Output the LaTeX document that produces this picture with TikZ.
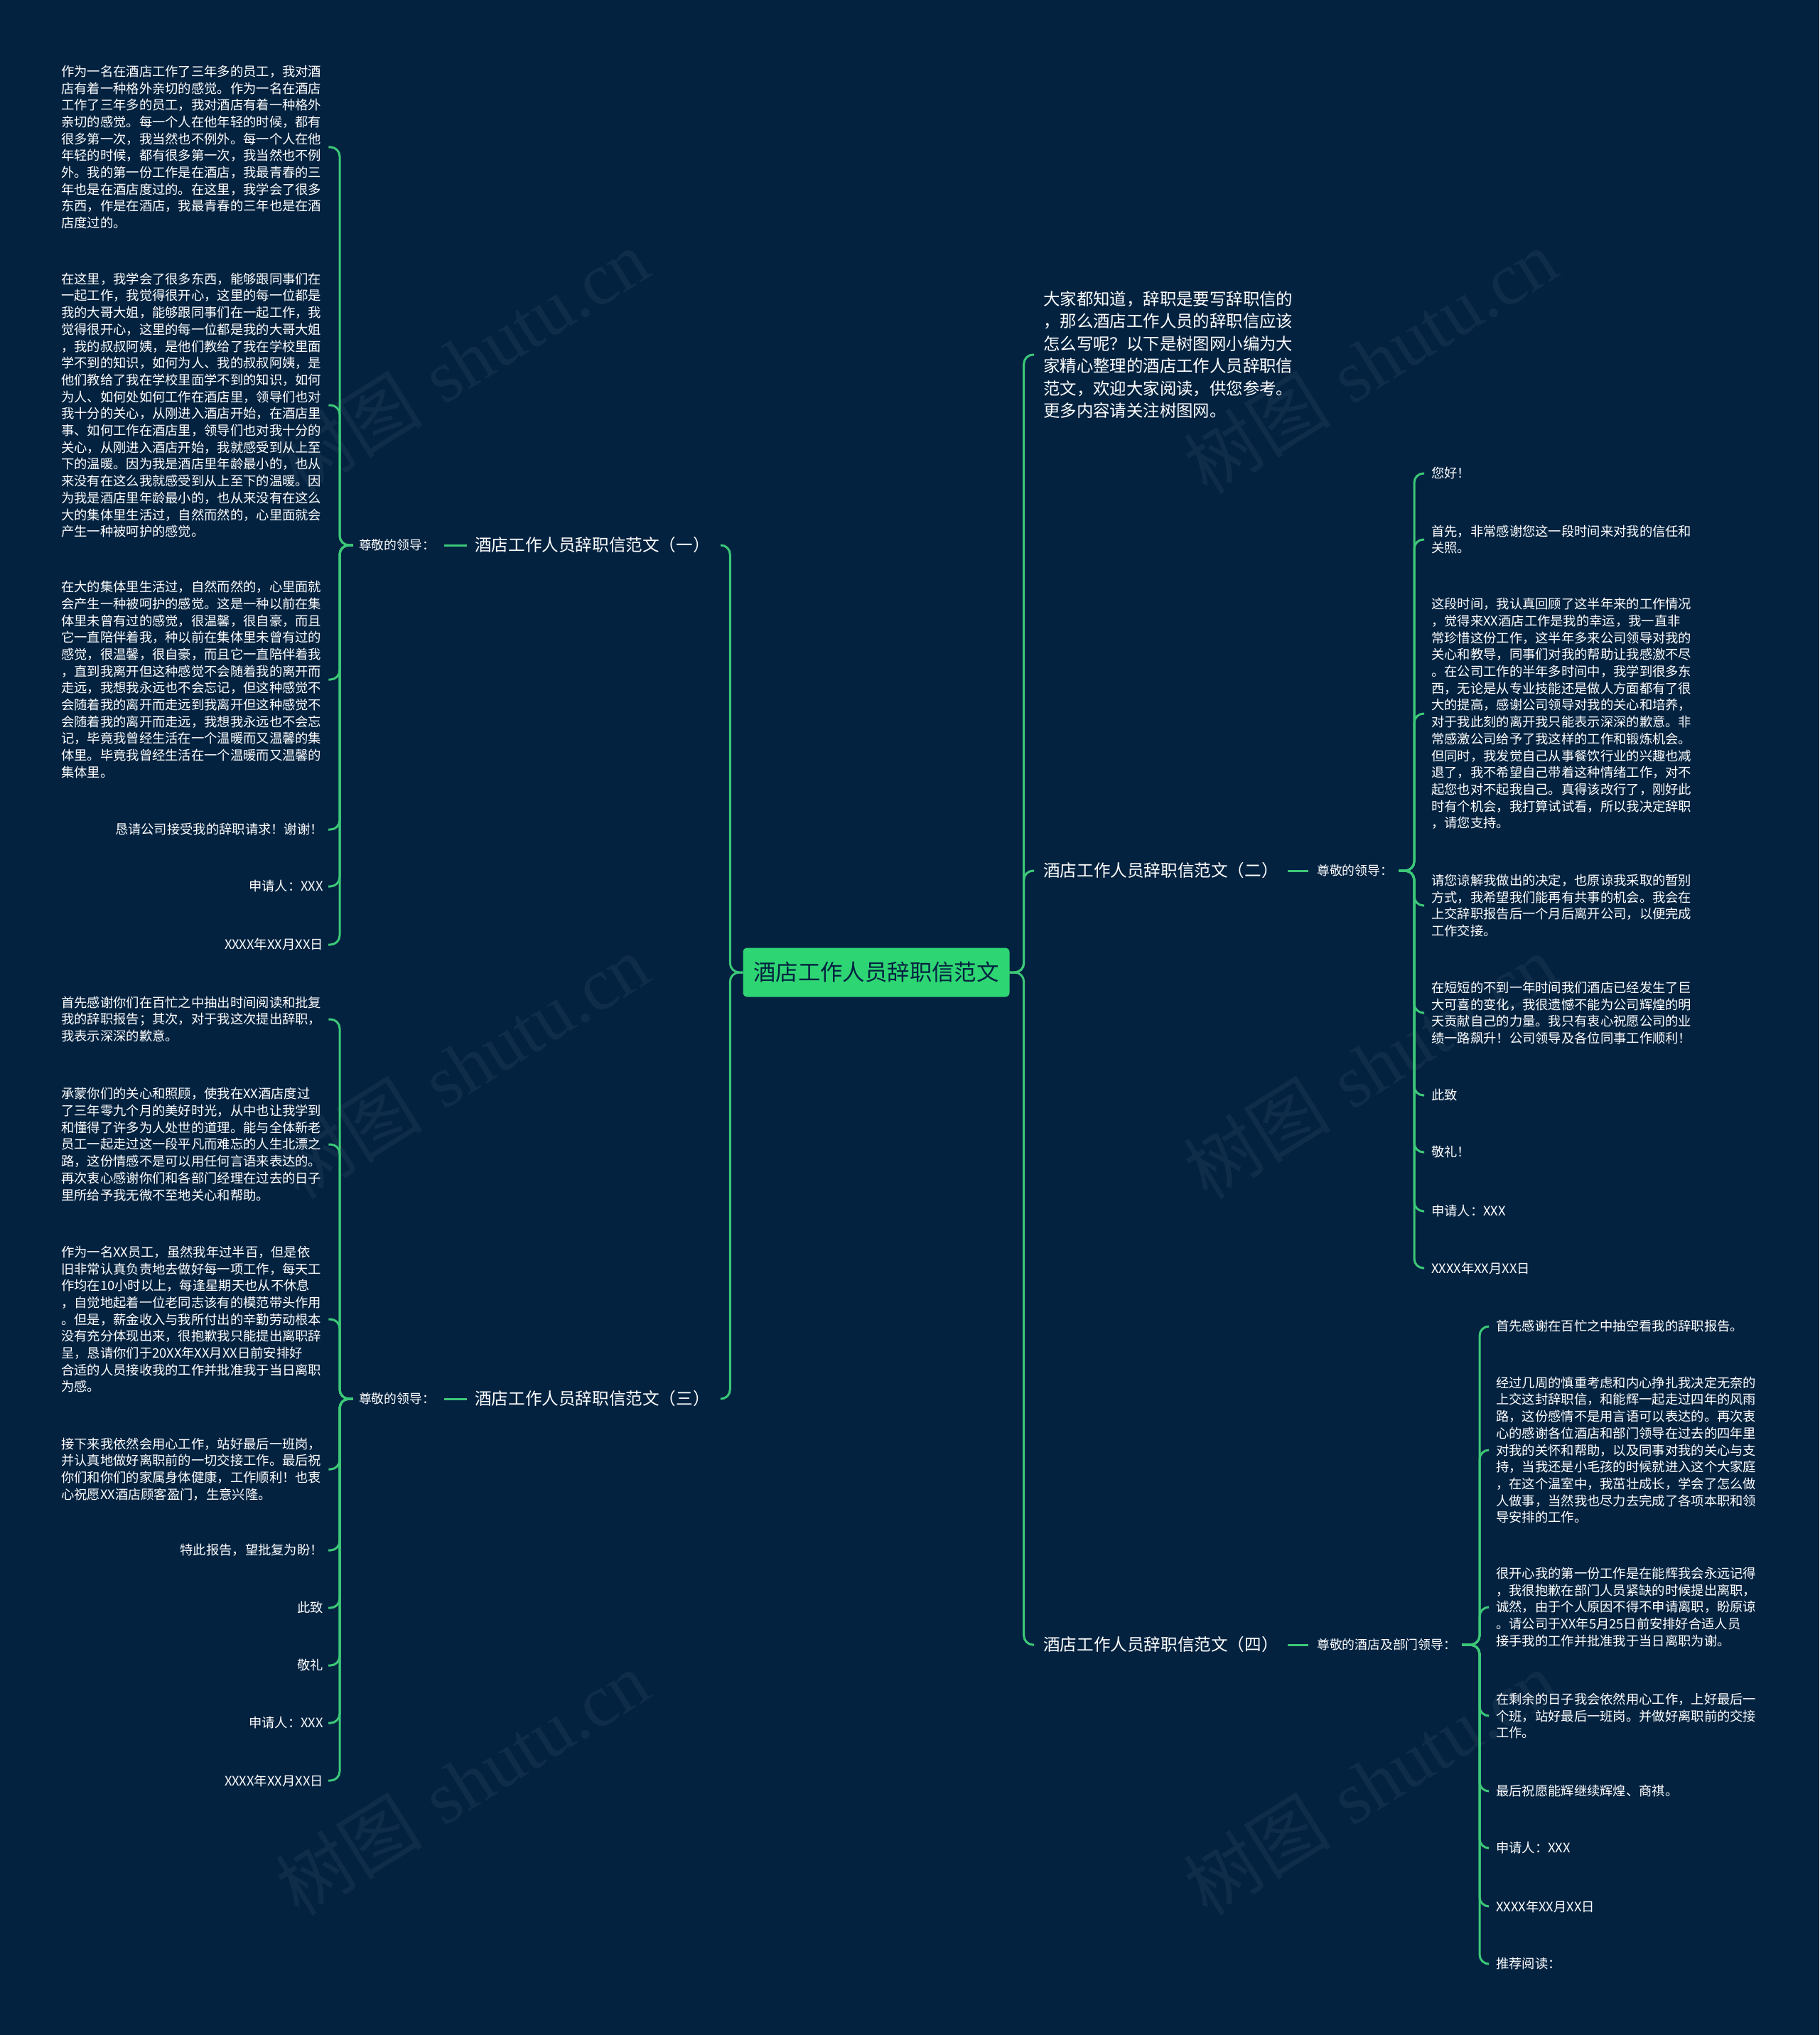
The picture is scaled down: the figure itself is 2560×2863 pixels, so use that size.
\documentclass[tikz,border=0pt]{standalone}
\usepackage{fontspec}
\newfontfamily\cjk{Noto Sans CJK SC}
\newfontfamily\wmserif{Liberation Serif}
\definecolor{bgc}{RGB}{3,34,64}
\definecolor{lc}{RGB}{60,200,120}
\definecolor{cfill}{RGB}{46,213,115}
\begin{document}
\begin{tikzpicture}[x=1pt,y=-1pt,
  conn/.style={draw=lc,line width=3pt,rounded corners=13pt},
  leaf/.style={text=white,font=\cjk\fontsize{18.3}{23.7}\selectfont,inner sep=0pt},
  para/.style={leaf,text width=369pt,align=left},
  branch/.style={text=white,font=\cjk\fontsize{23.6}{28}\selectfont,inner sep=0pt},
  lead/.style={text=white,font=\cjk\fontsize{17.8}{21}\selectfont,inner sep=0pt},
  intro/.style={text=white,font=\cjk\fontsize{23.4}{31.5}\selectfont,inner sep=0pt,align=left},
  ctrnode/.style={fill=cfill,text=bgc,rounded corners=6pt,minimum width=375pt,minimum height=69pt,font=\cjk\fontsize{31.4}{36}\selectfont,inner sep=0pt},
  wm/.style={text=white,opacity=0.05,font=\fontsize{104}{110}\selectfont,inner sep=0pt}]
\fill[bgc] (0,0) rectangle (2560,2863);
\useasboundingbox (0,0) rectangle (2560,2863);

% watermarks
\foreach \wx/\wy [count=\i] in {650/508,1928/508,650/1500,1928/1500,650/2508,1928/2508}
  \node[wm,rotate=32] (wm\i) at (\wx,\wy) {{\cjk 树图} {\wmserif shutu.cn}};

% centre
\node[ctrnode] (ctr) at (1233,1368) {酒店工作人员辞职信范文};

% junction points of the fans
\coordinate (v1) at (478,767);
\coordinate (v3) at (478,1968);
\coordinate (v2) at (1990,1225);
\coordinate (v4) at (2082,2314);

% ---------- branch 1 ----------
\node[branch,anchor=west] (b1) at (668,767) {酒店工作人员辞职信范文（一）};
\node[lead,anchor=east] (L1) at (612,767) {尊敬的领导：};
\node[para,anchor=west] (p11) at (86,207) {作为一名在酒店工作了三年多的员工，我对酒\\店有着一种格外亲切的感觉。作为一名在酒店\\工作了三年多的员工，我对酒店有着一种格外\\亲切的感觉。每一个人在他年轻的时候，都有\\很多第一次，我当然也不例外。每一个人在他\\年轻的时候，都有很多第一次，我当然也不例\\外。我的第一份工作是在酒店，我最青春的三\\年也是在酒店度过的。在这里，我学会了很多\\东西，作是在酒店，我最青春的三年也是在酒\\店度过的。};
\node[para,anchor=west] (p12) at (86,570) {在这里，我学会了很多东西，能够跟同事们在\\一起工作，我觉得很开心，这里的每一位都是\\我的大哥大姐，能够跟同事们在一起工作，我\\觉得很开心，这里的每一位都是我的大哥大姐\\，我的叔叔阿姨，是他们教给了我在学校里面\\学不到的知识，如何为人、我的叔叔阿姨，是\\他们教给了我在学校里面学不到的知识，如何\\为人、如何处如何工作在酒店里，领导们也对\\我十分的关心，从刚进入酒店开始，在酒店里\\事、如何工作在酒店里，领导们也对我十分的\\关心，从刚进入酒店开始，我就感受到从上至\\下的温暖。因为我是酒店里年龄最小的，也从\\来没有在这么我就感受到从上至下的温暖。因\\为我是酒店里年龄最小的，也从来没有在这么\\大的集体里生活过，自然而然的，心里面就会\\产生一种被呵护的感觉。};
\node[para,anchor=west] (p13) at (86,956) {在大的集体里生活过，自然而然的，心里面就\\会产生一种被呵护的感觉。这是一种以前在集\\体里未曾有过的感觉，很温馨，很自豪，而且\\它一直陪伴着我，种以前在集体里未曾有过的\\感觉，很温馨，很自豪，而且它一直陪伴着我\\，直到我离开但这种感觉不会随着我的离开而\\走远，我想我永远也不会忘记，但这种感觉不\\会随着我的离开而走远到我离开但这种感觉不\\会随着我的离开而走远，我想我永远也不会忘\\记，毕竟我曾经生活在一个温暖而又温馨的集\\体里。毕竟我曾经生活在一个温暖而又温馨的\\集体里。};
\node[leaf,anchor=east] (p14) at (455,1167) {恳请公司接受我的辞职请求！谢谢！};
\node[leaf,anchor=east] (p15) at (455,1247) {申请人：XXX};
\node[leaf,anchor=east] (p16) at (455,1329) {XXXX年XX月XX日};

% ---------- branch 3 ----------
\node[branch,anchor=west] (b3) at (668,1968) {酒店工作人员辞职信范文（三）};
\node[lead,anchor=east] (L3) at (612,1968) {尊敬的领导：};
\node[para,anchor=west] (p31) at (86,1434) {首先感谢你们在百忙之中抽出时间阅读和批复\\我的辞职报告；其次，对于我这次提出辞职，\\我表示深深的歉意。};
\node[para,anchor=west] (p32) at (86,1610) {承蒙你们的关心和照顾，使我在XX酒店度过\\了三年零九个月的美好时光，从中也让我学到\\和懂得了许多为人处世的道理。能与全体新老\\员工一起走过这一段平凡而难忘的人生北漂之\\路，这份情感不是可以用任何言语来表达的。\\再次衷心感谢你们和各部门经理在过去的日子\\里所给予我无微不至地关心和帮助。};
\node[para,anchor=west] (p33) at (86,1856) {作为一名XX员工，虽然我年过半百，但是依\\旧非常认真负责地去做好每一项工作，每天工\\作均在10小时以上，每逢星期天也从不休息\\，自觉地起着一位老同志该有的模范带头作用\\。但是，薪金收入与我所付出的辛勤劳动根本\\没有充分体现出来，很抱歉我只能提出离职辞\\呈，恳请你们于20XX年XX月XX日前安排好\\合适的人员接收我的工作并批准我于当日离职\\为感。};
\node[para,anchor=west] (p34) at (86,2067) {接下来我依然会用心工作，站好最后一班岗，\\并认真地做好离职前的一切交接工作。最后祝\\你们和你们的家属身体健康，工作顺利！也衷\\心祝愿XX酒店顾客盈门，生意兴隆。};
\node[leaf,anchor=east] (p35) at (455,2181) {特此报告，望批复为盼！};
\node[leaf,anchor=east] (p36) at (455,2262) {此致};
\node[leaf,anchor=east] (p37) at (455,2343) {敬礼};
\node[leaf,anchor=east] (p38) at (455,2424) {申请人：XXX};
\node[leaf,anchor=east] (p39) at (455,2505) {XXXX年XX月XX日};

% ---------- intro ----------
\node[intro,anchor=west] (intro) at (1468,499) {大家都知道，辞职是要写辞职信的\\，那么酒店工作人员的辞职信应该\\怎么写呢？以下是树图网小编为大\\家精心整理的酒店工作人员辞职信\\范文，欢迎大家阅读，供您参考。\\更多内容请关注树图网。};

% ---------- branch 2 ----------
\node[branch,anchor=west] (b2) at (1468,1225) {酒店工作人员辞职信范文（二）};
\node[lead,anchor=west] (L2) at (1853,1225) {尊敬的领导：};
\node[leaf,anchor=west] (p21) at (2014,666) {您好！};
\node[para,anchor=west] (p22) at (2014,759) {首先，非常感谢您这一段时间来对我的信任和\\关照。};
\node[para,anchor=west] (p23) at (2014,1004) {这段时间，我认真回顾了这半年来的工作情况\\，觉得来XX酒店工作是我的幸运，我一直非\\常珍惜这份工作，这半年多来公司领导对我的\\关心和教导，同事们对我的帮助让我感激不尽\\。在公司工作的半年多时间中，我学到很多东\\西，无论是从专业技能还是做人方面都有了很\\大的提高，感谢公司领导对我的关心和培养，\\对于我此刻的离开我只能表示深深的歉意。非\\常感激公司给予了我这样的工作和锻炼机会。\\但同时，我发觉自己从事餐饮行业的兴趣也减\\退了，我不希望自己带着这种情绪工作，对不\\起您也对不起我自己。真得该改行了，刚好此\\时有个机会，我打算试试看，所以我决定辞职\\，请您支持。};
\node[para,anchor=west] (p24) at (2014,1274) {请您谅解我做出的决定，也原谅我采取的暂别\\方式，我希望我们能再有共事的机会。我会在\\上交辞职报告后一个月后离开公司，以便完成\\工作交接。};
\node[para,anchor=west] (p25) at (2014,1425) {在短短的不到一年时间我们酒店已经发生了巨\\大可喜的变化，我很遗憾不能为公司辉煌的明\\天贡献自己的力量。我只有衷心祝愿公司的业\\绩一路飙升！公司领导及各位同事工作顺利！};
\node[leaf,anchor=west] (p26) at (2014,1541) {此致};
\node[leaf,anchor=west] (p27) at (2014,1621) {敬礼！};
\node[leaf,anchor=west] (p28) at (2014,1704) {申请人：XXX};
\node[leaf,anchor=west] (p29) at (2014,1784) {XXXX年XX月XX日};

% ---------- branch 4 ----------
\node[branch,anchor=west] (b4) at (1468,2314) {酒店工作人员辞职信范文（四）};
\node[lead,anchor=west] (L4) at (1853,2314) {尊敬的酒店及部门领导：};
\node[leaf,anchor=west] (p41) at (2105,1866) {首先感谢在百忙之中抽空看我的辞职报告。};
\node[para,anchor=west] (p42) at (2105,2040) {经过几周的慎重考虑和内心挣扎我决定无奈的\\上交这封辞职信，和能辉一起走过四年的风雨\\路，这份感情不是用言语可以表达的。再次衷\\心的感谢各位酒店和部门领导在过去的四年里\\对我的关怀和帮助，以及同事对我的关心与支\\持，当我还是小毛孩的时候就进入这个大家庭\\，在这个温室中，我茁壮成长，学会了怎么做\\人做事，当然我也尽力去完成了各项本职和领\\导安排的工作。};
\node[para,anchor=west] (p43) at (2105,2261) {很开心我的第一份工作是在能辉我会永远记得\\，我很抱歉在部门人员紧缺的时候提出离职，\\诚然，由于个人原因不得不申请离职，盼原谅\\。请公司于XX年5月25日前安排好合适人员\\接手我的工作并批准我于当日离职为谢。};
\node[para,anchor=west] (p44) at (2105,2414) {在剩余的日子我会依然用心工作，上好最后一\\个班，站好最后一班岗。并做好离职前的交接\\工作。};
\node[leaf,anchor=west] (p45) at (2105,2520) {最后祝愿能辉继续辉煌、商祺。};
\node[leaf,anchor=west] (p46) at (2105,2600) {申请人：XXX};
\node[leaf,anchor=west] (p47) at (2105,2682) {XXXX年XX月XX日};
\node[leaf,anchor=west] (p48) at (2105,2763) {推荐阅读：};

% ---------- connectors ----------
\draw[conn] (ctr.west) -- ++(-18,0) |- ([xshift=15pt]b1.east);
\draw[conn] (ctr.west) -- ++(-18,0) |- ([xshift=15pt]b3.east);
\draw[conn] (ctr.east) -- ++(20,0) |- ([xshift=-13pt]intro.west);
\draw[conn] (ctr.east) -- ++(20,0) |- ([xshift=-13pt]b2.west);
\draw[conn] (ctr.east) -- ++(20,0) |- ([xshift=-13pt]b4.west);

\draw[conn] ([xshift=-11pt]b1.west) -- ([xshift=13pt]L1.east);
\draw[conn] ([xshift=-11pt]b3.west) -- ([xshift=13pt]L3.east);
\draw[conn] ([xshift=13pt]b2.east) -- ([xshift=-12pt]L2.west);
\draw[conn] ([xshift=13pt]b4.east) -- ([xshift=-12pt]L4.west);

\foreach \c in {p11,p12,p13,p14,p15,p16}
  \draw[conn] ([xshift=-8pt]L1.west) -- (v1) |- ([xshift=7pt]\c.east);
\foreach \c in {p31,p32,p33,p34,p35,p36,p37,p38,p39}
  \draw[conn] ([xshift=-8pt]L3.west) -- (v3) |- ([xshift=7pt]\c.east);
\foreach \c in {p21,p22,p23,p24,p25,p26,p27,p28,p29}
  \draw[conn] ([xshift=8pt]L2.east) -- (v2) |- ([xshift=-10pt]\c.west);
\foreach \c in {p41,p42,p43,p44,p45,p46,p47,p48}
  \draw[conn] ([xshift=8pt]L4.east) -- (v4) |- ([xshift=-10pt]\c.west);
\end{tikzpicture}
\end{document}
